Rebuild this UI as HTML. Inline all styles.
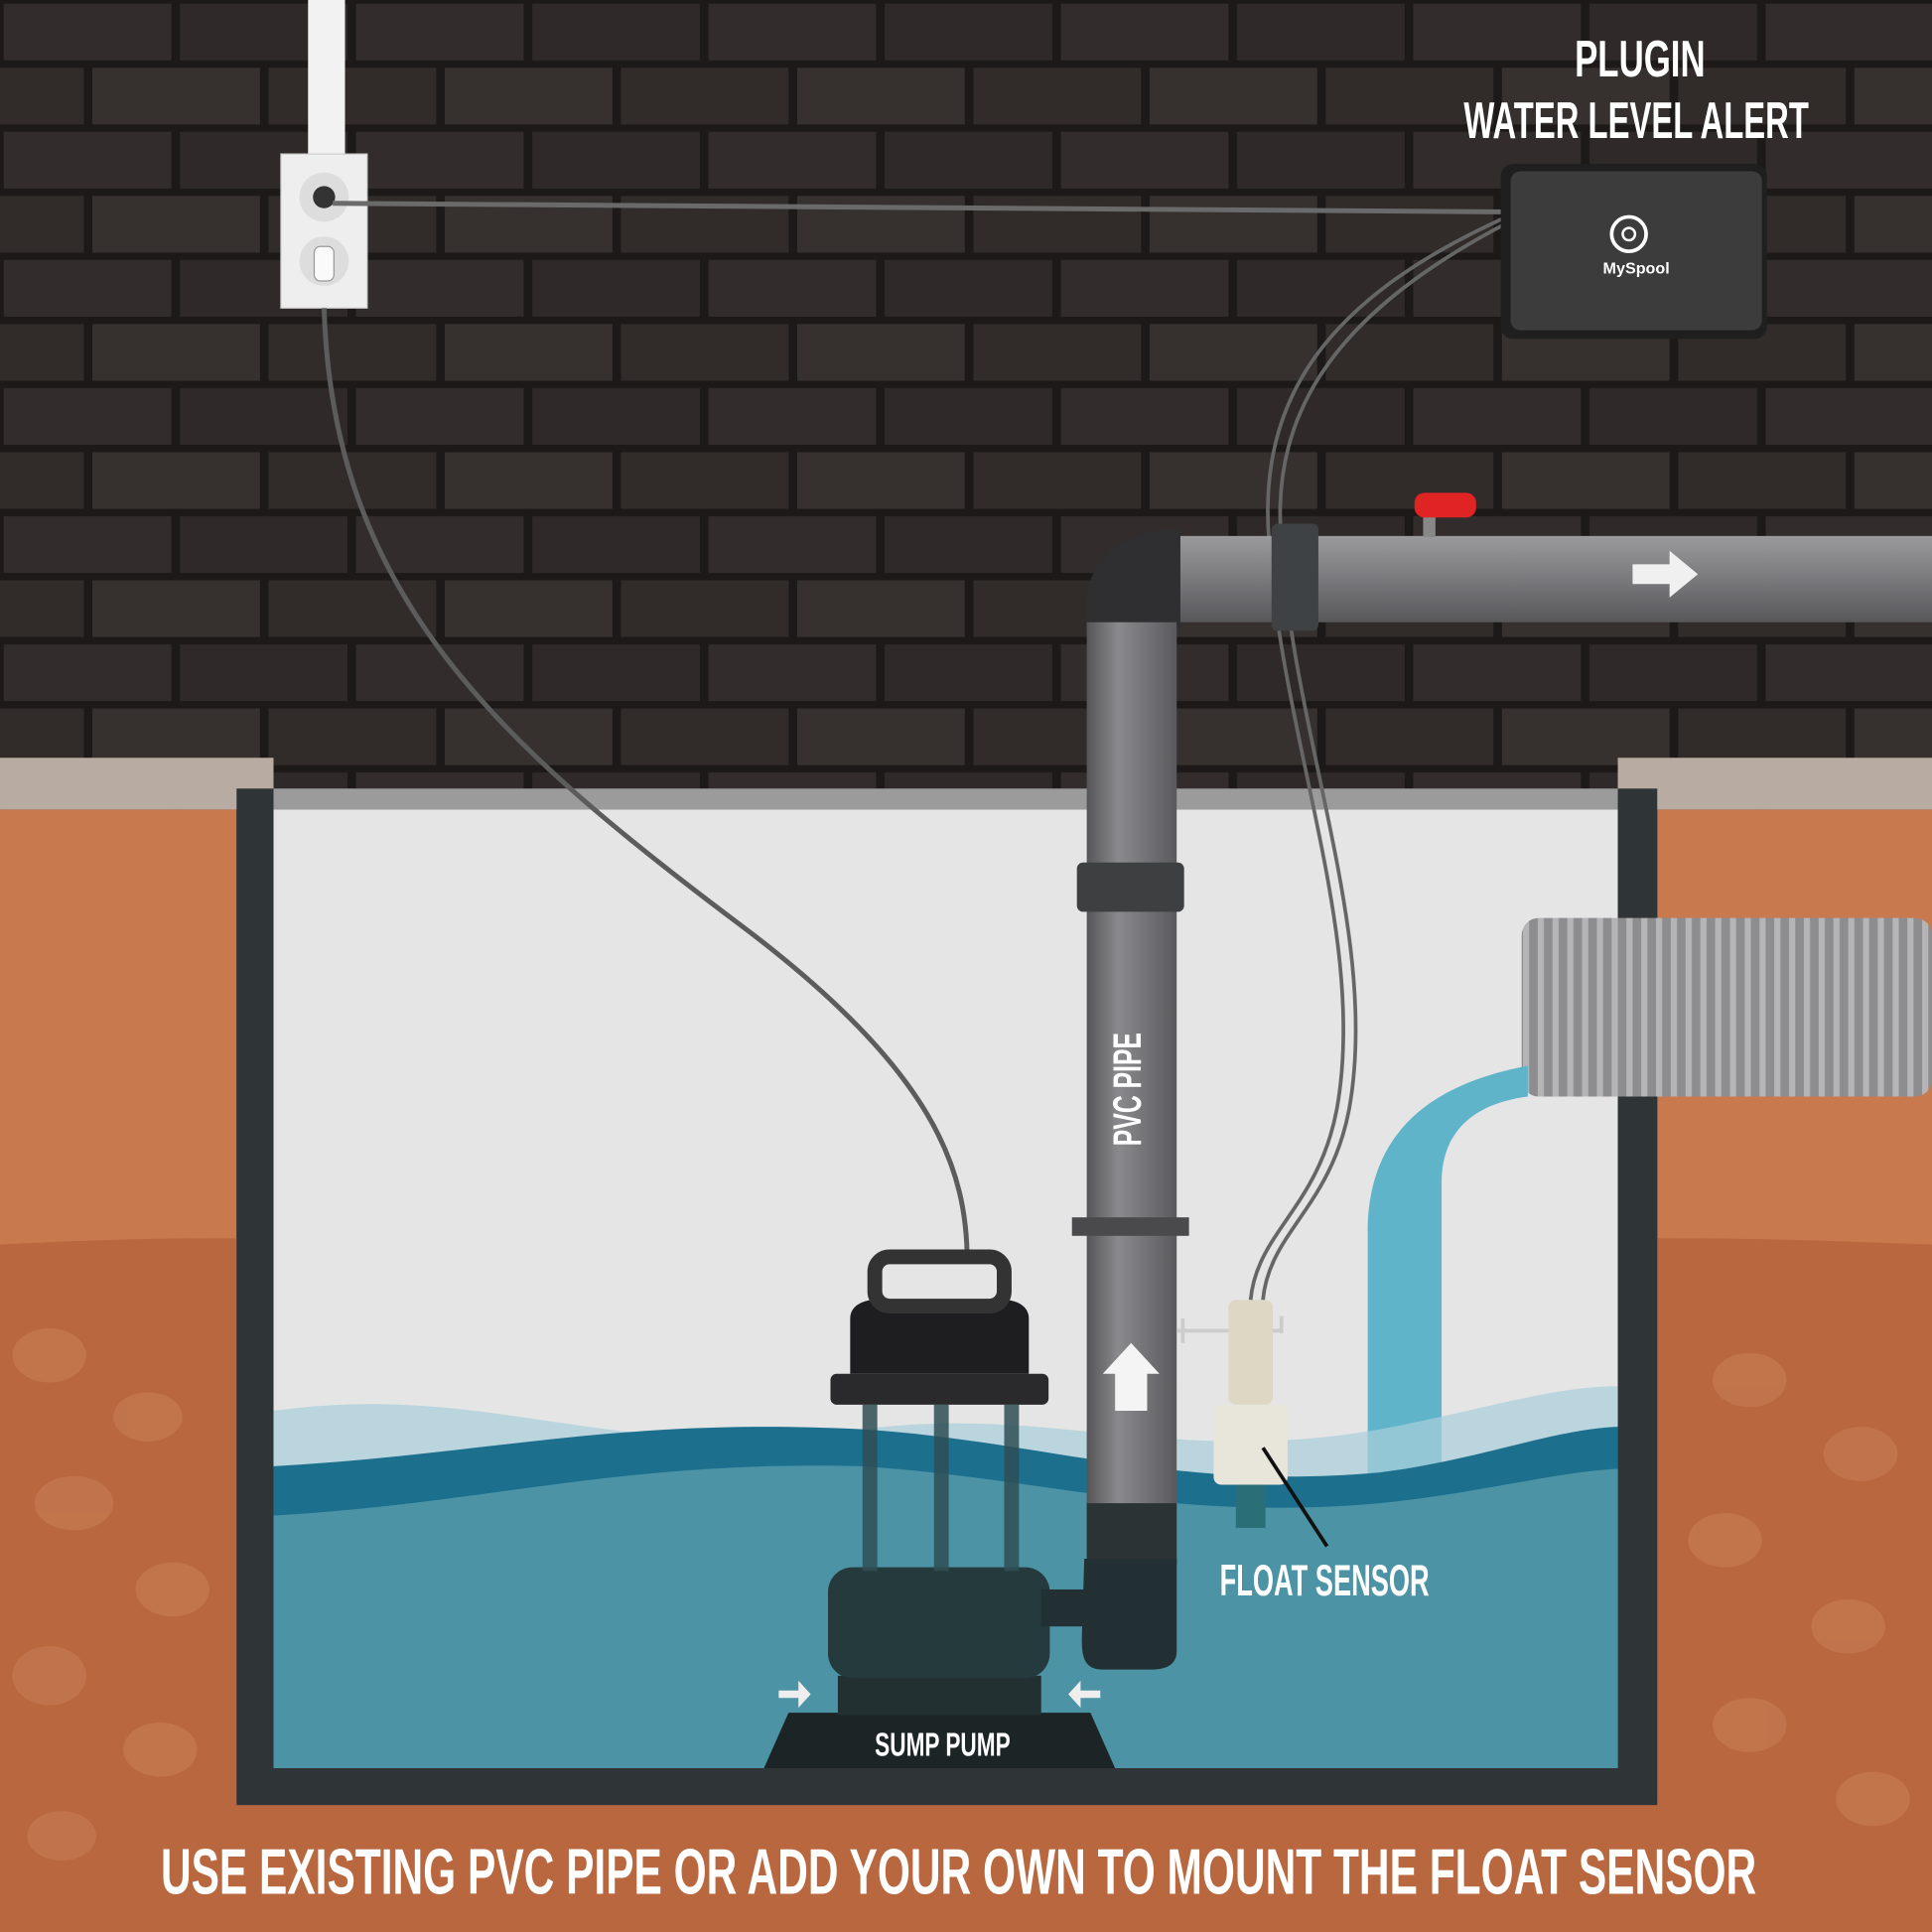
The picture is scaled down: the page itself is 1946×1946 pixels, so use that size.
<!DOCTYPE html>
<html><head><meta charset="utf-8"><style>html,body{margin:0;padding:0;background:#2a2624}svg{display:block}</style></head><body>
<svg width="1946" height="1946" viewBox="0 0 1568 1568" xmlns="http://www.w3.org/2000/svg">
<defs>
<pattern id="brick" width="286" height="104" patternUnits="userSpaceOnUse">
<rect width="286" height="104" fill="#1c1918"/>
<rect x="3" y="3" width="136" height="46" fill="#322d2c"/>
<rect x="146" y="3" width="136" height="46" fill="#2f2a29"/>
<rect x="-68" y="55" width="136" height="46" fill="#312c2a"/>
<rect x="75" y="55" width="136" height="46" fill="#36312f"/>
<rect x="218" y="55" width="136" height="46" fill="#312c2a"/>
</pattern>
<linearGradient id="pipeH" x1="0" y1="0" x2="0" y2="1"><stop offset="0" stop-color="#9a9a9c"/><stop offset=".45" stop-color="#7d7d80"/><stop offset="1" stop-color="#58585b"/></linearGradient>
<linearGradient id="pipeV" x1="0" y1="0" x2="1" y2="0"><stop offset="0" stop-color="#555558"/><stop offset=".35" stop-color="#8a8a8d"/><stop offset="1" stop-color="#5a5a5d"/></linearGradient>
<pattern id="rib" width="12" height="150" patternUnits="userSpaceOnUse"><rect width="12" height="150" fill="#8d8d8f"/><rect x="0" width="5" height="150" fill="#b5b5b7"/></pattern>
</defs>
<rect width="1568" height="660" fill="url(#brick)"/>
<!-- ground -->
<rect x="0" y="657" width="192" height="911" fill="#c87a4e"/>
<rect x="1345" y="657" width="223" height="911" fill="#c87a4e"/>
<rect x="0" y="1460" width="1568" height="108" fill="#b8673f"/>
<path d="M0 1010 C100 1005 150 1005 192 1005 L192 1568 L0 1568Z M1345 1005 C1450 1005 1500 1008 1568 1010 L1568 1568 L1345 1568Z" fill="#b8673f"/>
<g fill="#c4784f" opacity=".8">
<ellipse cx="40" cy="1100" rx="30" ry="22"/><ellipse cx="120" cy="1150" rx="28" ry="20"/><ellipse cx="60" cy="1220" rx="32" ry="22"/><ellipse cx="140" cy="1290" rx="30" ry="22"/><ellipse cx="40" cy="1360" rx="30" ry="24"/><ellipse cx="130" cy="1420" rx="30" ry="22"/><ellipse cx="50" cy="1490" rx="28" ry="20"/>
<ellipse cx="1420" cy="1120" rx="30" ry="22"/><ellipse cx="1510" cy="1180" rx="30" ry="22"/><ellipse cx="1400" cy="1250" rx="30" ry="22"/><ellipse cx="1500" cy="1320" rx="30" ry="22"/><ellipse cx="1420" cy="1400" rx="30" ry="22"/><ellipse cx="1520" cy="1460" rx="30" ry="22"/>
</g>
<rect x="0" y="615" width="222" height="42" fill="#b8aca2"/>
<rect x="1313" y="615" width="255" height="42" fill="#b8aca2"/>
<!-- pit -->
<rect x="192" y="640" width="1153" height="825" fill="#2f3537"/>
<rect x="222" y="640" width="1091" height="17" fill="#9b9b9b"/>
<rect x="222" y="657" width="1091" height="778" fill="#e5e5e5"/>
<!-- hose -->
<rect x="1235" y="745" width="333" height="145" rx="14" fill="url(#rib)"/>
<path d="M1240 865 C1160 880 1110 920 1110 1000 L1110 1240 L1170 1240 L1170 960 C1170 915 1200 895 1240 890Z" fill="#5fb4c9"/>
<!-- water -->
<path d="M222 1145 C400 1120 500 1190 700 1160 C850 1140 950 1190 1120 1160 C1200 1145 1260 1125 1313 1125 L1313 1435 L222 1435Z" fill="#a9cfdc" opacity=".7"/>
<path d="M222 1190 C400 1180 500 1150 700 1160 C850 1170 950 1210 1120 1195 C1200 1185 1260 1160 1313 1158 L1313 1435 L222 1435Z" fill="#1d6f8e"/>
<path d="M222 1230 C400 1220 500 1185 700 1190 C850 1200 950 1235 1120 1220 C1200 1212 1260 1195 1313 1192 L1313 1435 L222 1435Z" fill="#4b93a5"/>
<!-- outlet & conduit -->
<rect x="250" y="0" width="30" height="128" fill="#f2f2f2"/>
<rect x="228" y="125" width="70" height="125" fill="#eeeeee" stroke="#cfcfcf"/>
<circle cx="263" cy="160" r="20" fill="#ddd"/><circle cx="263" cy="212" r="20" fill="#ddd"/>
<circle cx="263" cy="160" r="9" fill="#333"/><rect x="255" y="200" width="16" height="28" rx="5" fill="#fafafa" stroke="#999"/>
<!-- cables -->
<path d="M270 165 L1225 172" stroke="#6a6a6a" stroke-width="4" fill="none"/>
<path d="M263 250 C270 480 400 600 600 750 C760 870 785 950 785 1025" stroke="#5c5c5c" stroke-width="4" fill="none"/>
<path d="M1225 175 C1080 240 1020 320 1030 440 C1040 600 1110 760 1085 900 C1070 980 1020 1000 1015 1055" stroke="#666" stroke-width="3" fill="none"/>
<path d="M1225 180 C1090 250 1030 330 1040 440 C1050 600 1120 760 1095 900 C1080 980 1030 1000 1025 1055" stroke="#666" stroke-width="3" fill="none"/>
<!-- device -->
<rect x="1218" y="133" width="216" height="142" rx="10" fill="#1f1f1f"/>
<rect x="1226" y="139" width="204" height="129" rx="8" fill="#3c3c3c"/>
<circle cx="1322" cy="190" r="14" fill="none" stroke="#fff" stroke-width="3"/><circle cx="1322" cy="190" r="5" fill="none" stroke="#fff" stroke-width="2"/>
<text x="1328" y="222" fill="#fff" font-family="Liberation Sans, sans-serif" font-size="13" font-weight="bold" text-anchor="middle">MySpool</text>
<text x="1331" y="62" fill="#fff" font-family="Liberation Sans Narrow, Liberation Sans, sans-serif" font-weight="bold" font-size="42" text-anchor="middle" textLength="106" lengthAdjust="spacingAndGlyphs">PLUGIN</text>
<text x="1328" y="112" fill="#fff" font-family="Liberation Sans Narrow, Liberation Sans, sans-serif" font-weight="bold" font-size="42" text-anchor="middle" textLength="280" lengthAdjust="spacingAndGlyphs">WATER LEVEL ALERT</text>
<!-- horizontal pipe -->
<rect x="950" y="435" width="618" height="70" fill="url(#pipeH)"/>
<rect x="1032" y="425" width="38" height="87" rx="5" fill="#3f4244"/>
<rect x="1155" y="418" width="10" height="18" fill="#888"/><rect x="1148" y="400" width="50" height="20" rx="8" fill="#e02424"/>
<path d="M1325 458 L1355 458 L1355 447 L1378 466 L1355 485 L1355 474 L1325 474Z" fill="#f0f0f0"/>
<!-- elbow -->
<path d="M882 490 C882 455 910 430 958 430 L958 510 C940 510 955 490 955 515 L882 515Z" fill="#2f2f31"/>
<!-- vertical pipe -->
<rect x="882" y="505" width="73" height="720" fill="url(#pipeV)"/>
<rect x="874" y="700" width="87" height="40" rx="5" fill="#3d3f41"/>
<rect x="870" y="988" width="95" height="15" fill="#4a4a4c"/>
<text transform="translate(926 930) rotate(-90)" fill="#fff" font-family="Liberation Sans Narrow, Liberation Sans, sans-serif" font-weight="bold" font-size="32" textLength="92" lengthAdjust="spacingAndGlyphs">PVC PIPE</text>
<path d="M905 1145 L905 1115 L895 1115 L918 1090 L941 1115 L931 1115 L931 1145Z" fill="#f4f4f4"/>
<rect x="882" y="1220" width="73" height="50" fill="#2b3335"/>
<path d="M880 1265 L955 1265 L955 1340 C955 1352 945 1355 935 1355 L895 1355 C880 1355 878 1345 878 1330Z" fill="#233033"/>
<!-- float sensor -->
<path d="M955 1080 L1040 1080 M960 1070 L960 1090 M1040 1068 L1040 1082" stroke="#ccc" stroke-width="3" fill="none"/>
<rect x="997" y="1055" width="36" height="85" rx="6" fill="#ded7c3"/>
<rect x="985" y="1140" width="60" height="65" rx="6" fill="#e8e5da"/>
<rect x="1003" y="1205" width="24" height="35" fill="#2a6e78"/>
<path d="M1025 1175 L1077 1255" stroke="#111" stroke-width="3"/>
<text x="990" y="1295" fill="#fff" font-family="Liberation Sans Narrow, Liberation Sans, sans-serif" font-weight="bold" font-size="36" textLength="170" lengthAdjust="spacingAndGlyphs">FLOAT SENSOR</text>
<!-- pump -->
<path d="M620 1435 L640 1390 L885 1390 L905 1435Z" fill="#1c2426"/>
<rect x="680" y="1360" width="165" height="32" fill="#223032"/>
<rect x="672" y="1272" width="180" height="90" rx="20" fill="#243a3d"/>
<rect x="845" y="1290" width="40" height="30" fill="#233033"/>
<g fill="#2f4f55" opacity=".85"><rect x="700" y="1140" width="12" height="135"/><rect x="758" y="1140" width="12" height="135"/><rect x="815" y="1140" width="12" height="135"/></g>
<rect x="674" y="1115" width="177" height="25" rx="5" fill="#2a2a2c"/>
<path d="M690 1115 L690 1070 C690 1060 700 1055 710 1055 L815 1055 C825 1055 835 1060 835 1070 L835 1115Z" fill="#1e1e20"/>
<rect x="710" y="1020" width="105" height="40" rx="12" fill="none" stroke="#333" stroke-width="12"/>
<path d="M632 1372 L648 1372 L648 1364 L658 1375 L648 1386 L648 1378 L632 1378Z" fill="#eee"/>
<path d="M893 1372 L877 1372 L877 1364 L867 1375 L877 1386 L877 1378 L893 1378Z" fill="#eee"/>
<text x="765" y="1425" fill="#fff" font-family="Liberation Sans Narrow, Liberation Sans, sans-serif" font-weight="bold" font-size="27" text-anchor="middle" textLength="110" lengthAdjust="spacingAndGlyphs">SUMP PUMP</text>
<!-- bottom caption -->
<text x="778" y="1537" fill="#fff" font-family="Liberation Sans Narrow, Liberation Sans, sans-serif" font-weight="bold" font-size="52" text-anchor="middle" textLength="1295" lengthAdjust="spacingAndGlyphs">USE EXISTING PVC PIPE OR ADD YOUR OWN TO MOUNT THE FLOAT SENSOR</text>
</svg>
</body></html>
